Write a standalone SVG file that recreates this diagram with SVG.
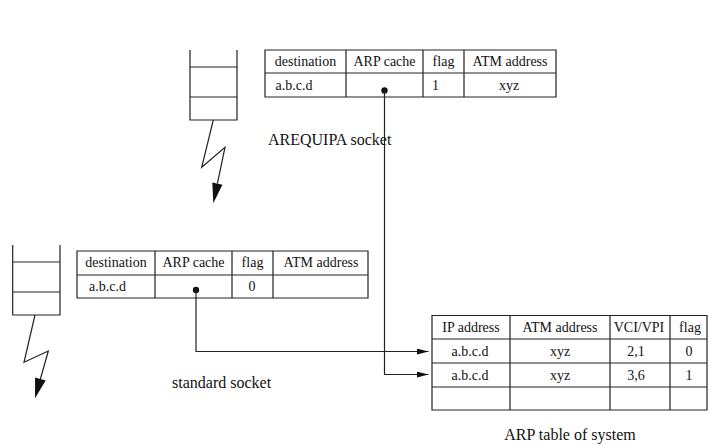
<svg xmlns="http://www.w3.org/2000/svg" width="709" height="445" viewBox="0 0 709 445">
<defs>
<style>
.ln{fill:none;stroke:#222;stroke-width:1.2}
.t{font-size:14px;fill:#111}
.c{text-anchor:middle}
.lbl{font-size:16px;fill:#111}
.ah{fill:#111;stroke:none}
</style>
<marker id="arr" viewBox="0 0 12 6" refX="12" refY="3" markerWidth="12" markerHeight="6" markerUnits="userSpaceOnUse" orient="auto">
<path d="M0,0 L12,3 L0,6 z" class="ah"/>
</marker>
</defs>
<rect width="709" height="445" fill="#fff"/>
<g font-family="Liberation Serif, DejaVu Serif, serif">

<g id="stack1">
<path class="ln" d="M190,50 V120 H237 V50 M190,67 H237 M190,97 H237"/>
<path class="ln" d="M213.3,120 L201.7,167.3 L225,147.3 L217.4,183.7"/>
<polygon class="ah" points="213.3,203.3 222.4,184.7 212.3,182.6"/>
</g>

<g id="stack2">
<path class="ln" d="M12.7,245 V315 H60 V245 M12.7,262 H60 M12.7,292 H60"/>
<path class="ln" d="M35,315 L24,362.3 L48.3,351 L40.4,379"/>
<polygon class="ah" points="35,398.3 45.7,380.5 35.1,377.5"/>
</g>

<g id="arequipa-table">
<path class="ln" d="M265,50 H556 V97 H265 Z M265,73 H556 M346,50 V97 M423,50 V97 M464,50 V97"/>
<text class="t c" x="305.5" y="66">destination</text>
<text class="t c" x="384.5" y="66">ARP cache</text>
<text class="t c" x="443.5" y="66">flag</text>
<text class="t c" x="510" y="66">ATM address</text>
<text class="t c" x="294" y="90">a.b.c.d</text>
<text class="t c" x="435.5" y="90">1</text>
<text class="t c" x="509" y="90">xyz</text>
<circle cx="384.5" cy="90.5" r="3.2" fill="#111"/>
</g>

<g id="arequipa-label">
<text class="lbl" x="268" y="145">AREQUIPA socket</text>
</g>

<g id="standard-table">
<path class="ln" d="M77,251 H368 V298 H77 Z M77,275 H368 M155,251 V298 M232,251 V298 M273,251 V298"/>
<text class="t c" x="116" y="267">destination</text>
<text class="t c" x="193.5" y="267">ARP cache</text>
<text class="t c" x="252.5" y="267">flag</text>
<text class="t c" x="321" y="267">ATM address</text>
<text class="t c" x="107.5" y="291">a.b.c.d</text>
<text class="t c" x="252" y="291">0</text>
<circle cx="196" cy="290" r="3.2" fill="#111"/>
</g>

<g id="standard-label">
<text class="lbl" x="172" y="388">standard socket</text>
</g>

<g id="arp-table">
<path class="ln" d="M432,315.5 H707 V410 H432 Z M432,339 H707 M432,363 H707 M432,387 H707 M510,315.5 V410 M610,315.5 V410 M670,315.5 V410"/>
<text class="t c" x="471" y="332">IP address</text>
<text class="t c" x="560" y="332">ATM address</text>
<text class="t c" x="639" y="332">VCI/VPI</text>
<text class="t c" x="690" y="332">flag</text>
<text class="t c" x="470" y="356">a.b.c.d</text>
<text class="t c" x="560" y="356">xyz</text>
<text class="t c" x="636" y="356">2,1</text>
<text class="t c" x="689" y="356">0</text>
<text class="t c" x="470" y="380">a.b.c.d</text>
<text class="t c" x="560" y="380">xyz</text>
<text class="t c" x="636" y="380">3,6</text>
<text class="t c" x="689" y="380">1</text>
</g>

<g id="arp-label">
<text class="lbl c" x="570" y="440">ARP table of system</text>
</g>

</g>
<g id="connectors">
<path class="ln" d="M196,290 V351.5 H428.5" marker-end="url(#arr)"/>
<path class="ln" d="M384.5,90.5 V374.5 H428.5" marker-end="url(#arr)"/>
</g>
</svg>
